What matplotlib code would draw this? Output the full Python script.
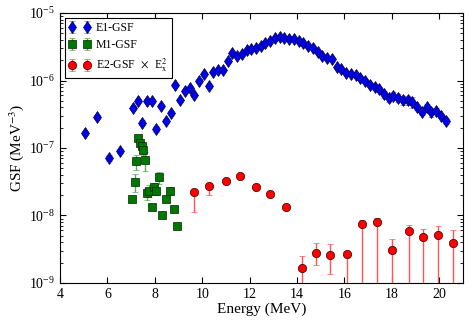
import numpy as np
import matplotlib
matplotlib.use("Agg")
import matplotlib.pyplot as plt

# ---- E1 data ----
e1_E = [5.05, 5.55, 6.05, 6.55, 7.07, 7.27, 7.47, 7.67, 7.87, 8.07, 8.27, 8.47, 8.67, 8.87,
        9.07, 9.27, 9.47, 9.67, 9.87, 10.07, 10.27, 10.47, 10.67, 10.87, 11.07, 11.27, 11.47,
        11.67, 11.87, 12.07, 12.27, 12.47, 12.67, 12.87, 13.07, 13.27, 13.47, 13.67, 13.87,
        14.07, 14.27, 14.47, 14.67, 14.87, 15.07, 15.27, 15.47, 15.67, 15.87, 16.07, 16.27,
        16.47, 16.67, 16.87, 17.07, 17.27, 17.47, 17.67, 17.87, 18.07, 18.27, 18.47, 18.67,
        18.87, 19.07, 19.27, 19.47, 19.67, 19.87, 20.07, 20.27]
e1_V = [1.67e-7, 2.85e-7, 7.2e-8, 9.1e-8, 3.9e-7, 5.0e-7, 2.37e-7, 5.0e-7, 5.0e-7, 1.9e-7,
        4.25e-7, 2.54e-7, 3.33e-7, 8.6e-7, 5.1e-7, 7.1e-7, 7.7e-7, 6.1e-7, 1.0e-6, 1.25e-6,
        8.2e-7, 1.35e-6, 1.43e-6, 1.43e-6, 1.95e-6, 2.58e-6, 2.31e-6, 2.45e-6, 2.83e-6,
        2.93e-6, 3.03e-6, 3.28e-6, 3.63e-6, 3.89e-6, 4.2e-6, 4.45e-6, 4.3e-6, 4.12e-6,
        4.12e-6, 3.85e-6, 3.56e-6, 3.28e-6, 3.0e-6, 2.67e-6, 2.31e-6, 2.13e-6, 2.06e-6,
        1.6e-6, 1.48e-6, 1.3e-6, 1.24e-6, 1.2e-6, 1.08e-6, 9.8e-7, 8.6e-7, 8.0e-7, 7.5e-7,
        6.3e-7, 5.6e-7, 5.9e-7, 5.56e-7, 5.1e-7, 5.1e-7, 4.75e-7, 4.0e-7, 3.4e-7, 4.1e-7,
        3.4e-7, 3.5e-7, 2.98e-7, 2.54e-7]
e1_relerr = [0.08, 0.07, 0.1, 0.08, 0.06, 0.05, 0.08, 0.05, 0.05, 0.1, 0.05, 0.06, 0.05, 0.04,
             0.05, 0.04, 0.04, 0.04, 0.04, 0.03, 0.04, 0.03, 0.03, 0.03, 0.03, 0.03, 0.03,
             0.03, 0.03, 0.03, 0.03, 0.03, 0.03, 0.03, 0.03, 0.03, 0.03, 0.03, 0.03, 0.03,
             0.03, 0.03, 0.03, 0.03, 0.03, 0.03, 0.03, 0.04, 0.04, 0.04, 0.05, 0.05, 0.06,
             0.06, 0.08, 0.08, 0.08, 0.12, 0.14, 0.13, 0.14, 0.15, 0.15, 0.18, 0.08, 0.08,
             0.08, 0.15, 0.1, 0.08, 0.1]

# ---- M1 data ----
m1_E = [7.30, 7.37, 7.47, 7.52, 7.22, 7.59, 7.15, 7.04, 7.65, 7.77, 7.95, 8.07, 8.17, 7.87,
        8.32, 8.49, 8.64, 8.80, 8.94]
m1_V = [1.42e-7, 1.17e-7, 1.08e-7, 9.3e-8, 6.4e-8, 6.6e-8, 3.17e-8, 1.74e-8, 2.12e-8,
        2.33e-8, 2.66e-8, 2.33e-8, 3.7e-8, 1.35e-8, 1.02e-8, 1.74e-8, 2.33e-8, 1.23e-8, 7.0e-9]
m1_relerr = [0.1, 0.1, 0.1, 0.15, 0.25, 0.3, 0.3, 0.05, 0.2, 0.2, 0.15, 0.15, 0.2, 0.05,
             0.05, 0.1, 0.15, 0.05, 0.05]

# ---- E2 data (GSF x Ex^2) ----
e2_E = [9.66, 10.29, 10.99, 11.59, 12.27, 12.87, 13.53, 14.19, 14.79, 15.41, 16.10, 16.76,
        17.36, 18.02, 18.71, 19.31, 19.93, 20.60]
e2_V = [2.23e-8, 2.71e-8, 3.28e-8, 3.8e-8, 2.64e-8, 2.1e-8, 1.34e-8, 1.67e-9, 2.81e-9,
        2.57e-9, 2.72e-9, 7.4e-9, 8.0e-9, 3.05e-9, 5.96e-9, 4.8e-9, 5.2e-9, 3.87e-9]
e2_hi = [1.2e-8, 2.71e-8, 3.0e-8, 3.8e-8, 2.64e-8, 2.1e-8, 1.34e-8, 2.54e-9, 3.92e-9,
         3.75e-9, 2.72e-9, 8.57e-9, 9.3e-9, 4.5e-9, 7.3e-9, 6.25e-9, 6.9e-9, 6.1e-9]
e2_lo = [1.14e-8, 2.0e-8, 3.0e-8, 3.8e-8, 2.64e-8, 2.1e-8, 1.34e-8, 0.0, 1.85e-9,
         1.35e-9, 0.0, 0.0, 0.0, 0.0, 0.0, 0.0, 0.0, 0.0]

plt.rcParams['font.family'] = ['Liberation Serif', 'DejaVu Serif']
plt.rcParams['mathtext.fontset'] = 'stix'

fig = plt.figure(figsize=(4.69, 3.26), dpi=100)
ax = fig.add_axes([0.128, 0.132, 0.859, 0.828])
ax.set_yscale('log', nonpositive='clip')

e1_E = np.array(e1_E); e1_V = np.array(e1_V)
ax.errorbar(e1_E, e1_V, yerr=e1_V * np.array(e1_relerr), fmt='d', color='#0000ee',
            mec='#000033', mew=0.5, ms=6, ecolor='#7777ff', elinewidth=1, capsize=2,
            label='E1-GSF', zorder=3)

m1_V = np.array(m1_V)
ax.errorbar(m1_E, m1_V, yerr=m1_V * np.array(m1_relerr), fmt='s', color='#007700',
            mec='#002200', mew=0.5, ms=5.5, ecolor='#55aa55', elinewidth=1, capsize=2,
            label='M1-GSF', zorder=3)

e2_V = np.array(e2_V)
lo = np.minimum(np.array(e2_lo), e2_V)
lo_err = e2_V - np.where(lo <= 0, 1e-14, lo)
hi_err = np.maximum(np.array(e2_hi) - e2_V, 0)
ax.errorbar(e2_E, e2_V, yerr=[lo_err, hi_err], fmt='o', color='#ff0000',
            mec='#330000', mew=0.5, ms=6, ecolor='#ff5555', elinewidth=1, capsize=2,
            label=r'E2-GSF $\,\times\,$ E$_{\rm x}^2$', zorder=3)

ax.set_xlim(4, 21)
ax.set_ylim(1e-9, 1e-5)
ax.set_xticks([4, 6, 8, 10, 12, 14, 16, 18, 20])
ax.tick_params(which='both', direction='in', top=True, right=True, labelsize=10)
ax.tick_params(which='major', length=4)
ax.tick_params(which='minor', length=2)
ax.set_xlabel('Energy (MeV)', fontsize=11, labelpad=1)
ax.set_ylabel(r'GSF (MeV$^{-3}$)', fontsize=11, labelpad=2)

leg = ax.legend(loc='upper left', numpoints=2, fontsize=8.5, fancybox=False,
                edgecolor='black', framealpha=1, borderpad=0.35, handletextpad=0.5,
                labelspacing=0.45, handlelength=1.8, borderaxespad=0.4)
leg.get_frame().set_linewidth(0.8)

fig.savefig('out.png', dpi=100)
